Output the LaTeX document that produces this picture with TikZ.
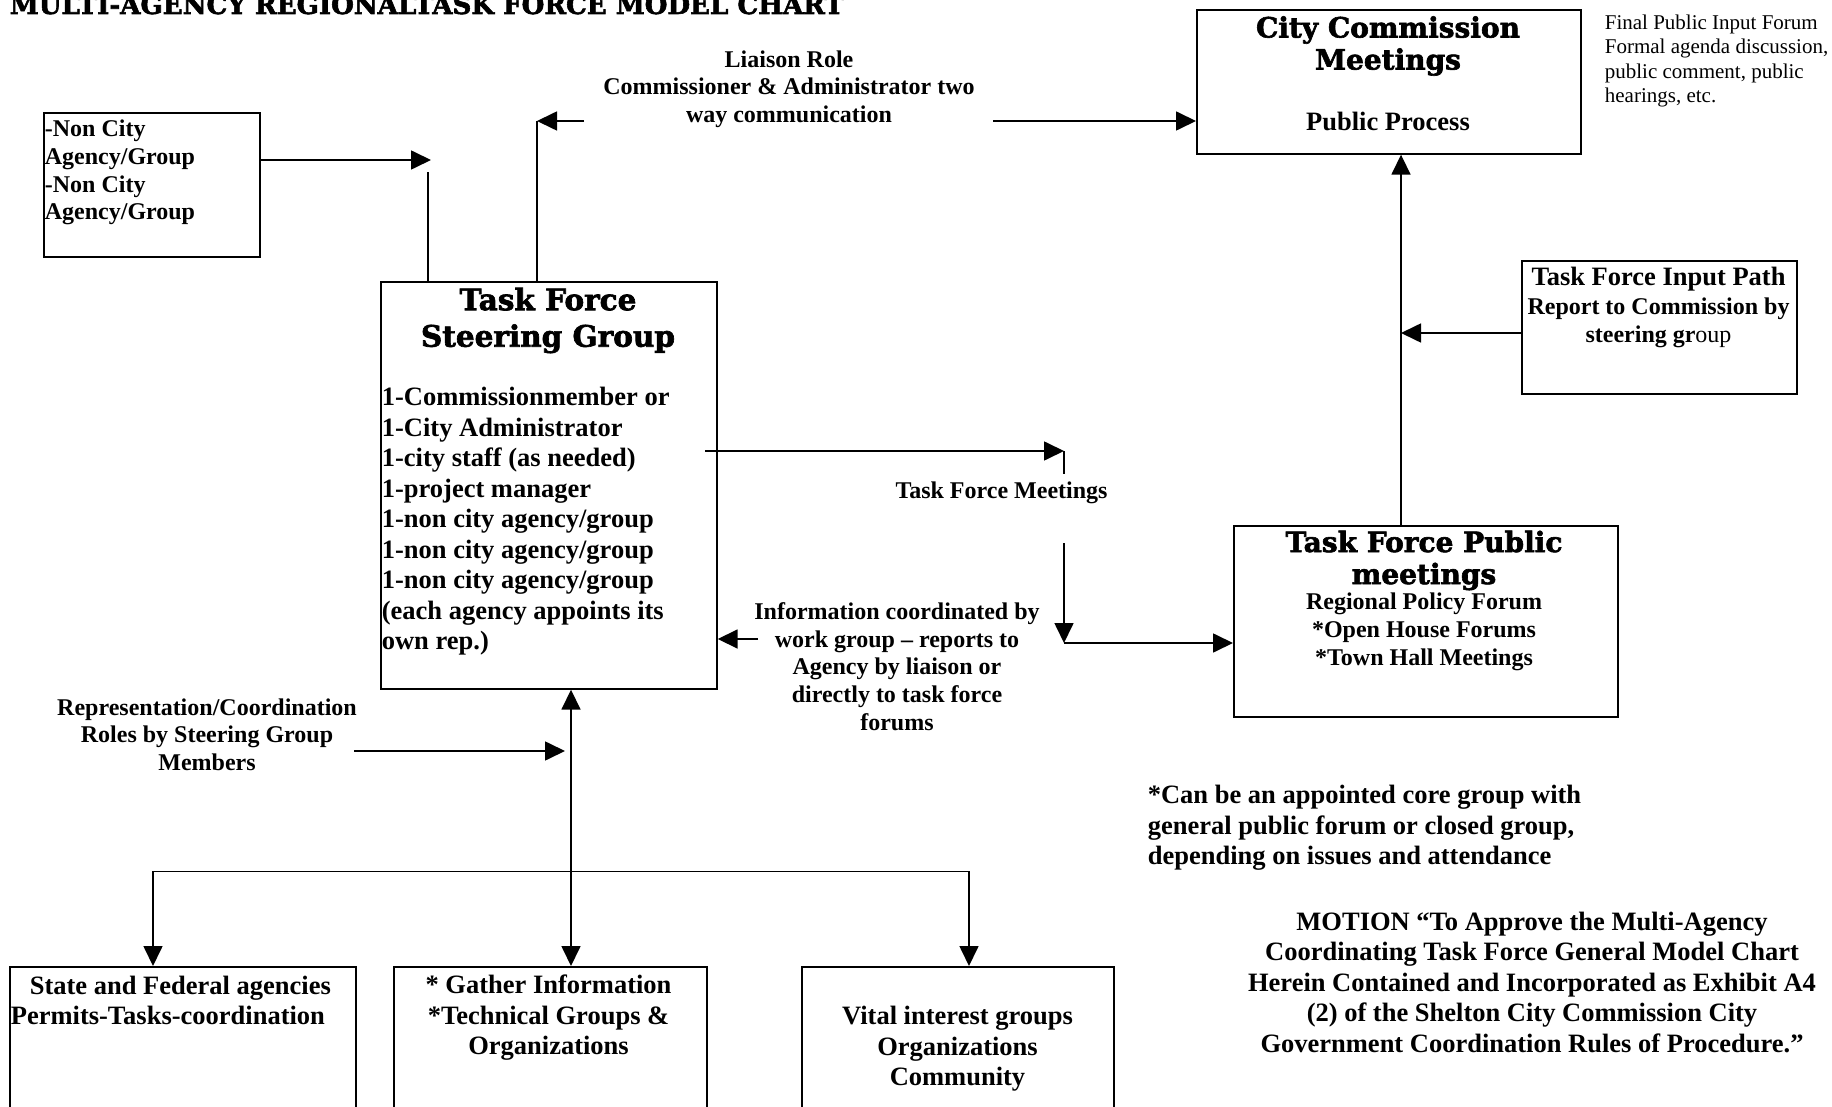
\documentclass[tikz,border=0pt]{standalone}
\usepackage{fontspec}
\usepackage{graphicx}
\setmainfont{Liberation Serif}
\newfontfamily\slabfont{DejaVu Serif}[BoldFeatures={FakeBold=2.2}]
\usetikzlibrary{arrows.meta}
\newcommand\szA{\fontsize{26.5}{30.5}\selectfont\bfseries}
\newcommand\szB{\fontsize{24}{27.7}\selectfont\bfseries}
\newcommand\szC{\fontsize{21}{24.4}\selectfont\mdseries}
\newcommand\szH{\fontsize{29.5}{36.5}\selectfont\slabfont\bfseries}
\newcommand\szHs{\fontsize{28}{32}\selectfont\slabfont\bfseries}
\begin{document}
\begin{tikzpicture}[x=1pt,y=-1pt,line width=1.7pt,
  >={Triangle[length=20pt,width=19pt]},
  box/.style={draw,rectangle,inner sep=0pt,anchor=north west,line width=1.7pt},
  txt/.style={inner sep=0pt,align=center}]
\useasboundingbox (0,0) rectangle (1832,1107);
\fill[white] (0,0) rectangle (1832,1107);

% title
\node[inner sep=0pt,anchor=base west] (title) at (9,14)
  {\resizebox{834pt}{!}{\slabfont\bfseries MULTI-AGENCY REGIONALTASK FORCE MODEL CHART}};

% boxes
\node[box,minimum width=216pt,minimum height=144pt] (nc) at (43,112) {};
\node[box,minimum width=336pt,minimum height=407pt] (tf) at (380,281) {};
\node[box,minimum width=384pt,minimum height=144pt] (cc) at (1196,9) {};
\node[box,minimum width=275pt,minimum height=133pt] (ip) at (1521,260) {};
\node[box,minimum width=384pt,minimum height=191pt] (pm) at (1233,525) {};
\node[box,minimum width=346pt,minimum height=170pt] (st) at (9,966) {};
\node[box,minimum width=313pt,minimum height=170pt] (ga) at (393,966) {};
\node[box,minimum width=312pt,minimum height=170pt] (vi) at (801,966) {};

% box texts
\node[txt,align=left,anchor=west,font=\szB] (nct) at (44,172.5)
  {-Non City\\Agency/Group\\-Non City\\Agency/Group};
\node[txt,font=\szH] (tfh) at (548,320.5) {Task Force\\Steering Group};
\node[txt,align=left,anchor=west,font=\szA] (tfl) at (381,521.5)
  {1-Commissionmember or\\1-City Administrator\\1-city staff (as needed)\\1-project manager\\1-non city agency/group\\1-non city agency/group\\1-non city agency/group\\(each agency appoints its\\own rep.)};
\node[txt,font=\szHs] (cch) at (1388,46) {City Commission\\Meetings};
\node[txt,font=\szA] (ccp) at (1388,121) {Public Process};
\node[txt,align=left,anchor=west,font=\szC] (fin) at (1604,61)
  {Final Public Input Forum\\Formal agenda discussion,\\public comment, public\\hearings, etc.};
\node[txt,font=\szA] (ip1) at (1658.5,279) {Task Force Input Path};
\node[txt,font=\szB] (ip2) at (1658.5,323) {Report to Commission by\\steering gr{\mdseries oup}};
\node[txt,font=\szHs] (pmh) at (1424,560.5) {Task Force Public\\meetings};
\node[txt,font=\szB] (pml) at (1424,632) {Regional Policy Forum\\*Open House Forums\\*Town Hall Meetings};
\node[txt,align=left,anchor=west,font=\szA] (stt) at (10,1000.5)
  {\hspace*{19pt}State and Federal agencies\\Permits-Tasks-coordination};
\node[txt,font=\szA] (gat) at (548.5,1018) {* Gather Information\\*Technical Groups \&\\Organizations};
\node[txt,font=\szA] (vit) at (957.5,1049) {Vital interest groups\\Organizations\\Community};

% free labels
\node[txt,font=\szB] (lia) at (789,89) {Liaison Role\\Commissioner \& Administrator two\\way communication};
\node[txt,font=\szB] (tfm) at (1001.5,493) {Task Force Meetings};
\node[txt,font=\szB] (inf) at (897,666.5) {Information coordinated by\\work group – reports to\\Agency by liaison or\\directly to task force\\forums};
\node[txt,font=\szB] (rep) at (207,734.5) {Representation/Coordination\\Roles by Steering Group\\Members};
\node[txt,align=left,anchor=west,font=\szA] (core) at (1147,828)
  {*Can be an appointed core group with\\general public forum or closed group,\\depending on issues and attendance};
\node[txt,font=\szA] (mot) at (1532,982)
  {MOTION “To Approve the Multi-Agency\\Coordinating Task Force General Model Chart\\Herein Contained and Incorporated as Exhibit A4\\(2) of the Shelton City Commission City\\Government Coordination Rules of Procedure.”};

% coordinates for free ends
\coordinate (a1) at (431,160);
\coordinate (v1) at (428,172);
\coordinate (v2) at (537,121);
\coordinate (l1) at (584,121);
\coordinate (l2) at (993,121);
\coordinate (cx) at (1401,400);
\coordinate (j1) at (1401,333);
\coordinate (m0) at (705,451);
\coordinate (m1) at (1064,451);
\coordinate (m2) at (1064,474);
\coordinate (m3) at (1064,543);
\coordinate (m4) at (1064,643);
\coordinate (i1) at (758,639);
\coordinate (r0) at (354,751);
\coordinate (r1) at (565,751);
\coordinate (gx) at (571,800);
\coordinate (h0) at (153,871.5);
\coordinate (h1) at (969,871.5);

% connectors
\draw[->] (nc.east |- a1) -- (a1);
\draw (tf.north -| v1) -- (v1);
\draw (tf.north -| v2) -- (v2);
\draw[->] (l1) -- (v2);
\draw[->] (l2) -- (cc.west |- l2);
\draw[->] (pm.north -| cx) -- (cc.south -| cx);
\draw[->] (ip.west |- j1) -- (j1);
\draw[->] (m0) -- (m1);
\draw (m1) -- (m2);
\draw[->] (m3) -- (m4);
\draw[->] (m4) -- (pm.west |- m4);
\draw[->] (i1) -- (tf.east |- i1);
\draw[->] (r0) -- (r1);
\draw[<->] (tf.south -| gx) -- (ga.north -| gx);
\draw[<->] (st.north -| h0) -- (h0) -- (h1) -- (vi.north -| h1);
\end{tikzpicture}
\end{document}
